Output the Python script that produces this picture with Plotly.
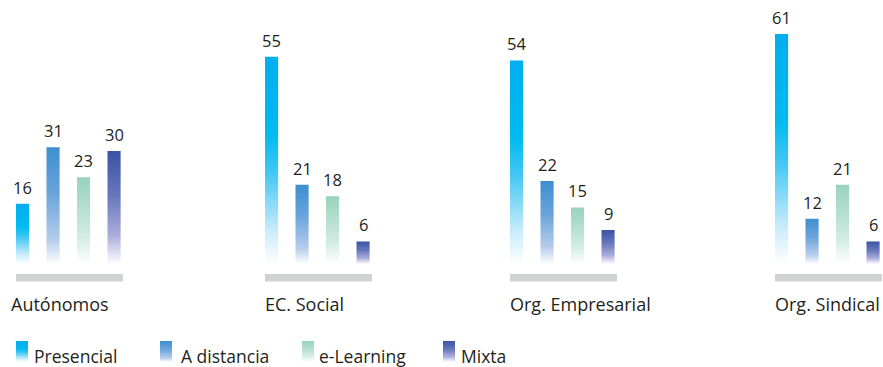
import plotly.graph_objects as go

# ---- data -------------------------------------------------------------
groups = ["Autónomos", "EC. Social", "Org. Empresarial", "Org. Sindical"]
series = ["Presencial", "A distancia", "e-Learning", "Mixta"]
presencial = [16, 55, 54, 61]
a_distancia = [31, 21, 22, 12]
e_learning = [23, 18, 15, 21]
mixta = [30, 6, 9, 6]
values = [presencial, a_distancia, e_learning, mixta]

# ---- styling / layout -------------------------------------------------
W, H = 883, 367
FONT = "Open Sans"
TEXT = "#231f20"
GREY = "#d1d2d4"

scales = [
    [[0, "#ffffff"], [0.15, "#cdedfb"], [0.45, "#3fc6f3"], [0.62, "#00bbf0"], [1, "#00aeef"]],
    [[0, "#ffffff"], [0.2, "#b6cdec"], [0.6, "#6ba4db"], [1, "#3d8fd0"]],
    [[0, "#ffffff"], [0.3, "#d4ede4"], [0.7, "#b0ddcd"], [1, "#98d3be"]],
    [[0, "#ffffff"], [0.25, "#abaedb"], [0.6, "#6978bd"], [1, "#3a52a5"]],
]

PITCH = 30.5          # px per bar slot
BAR_W = 0.43          # bar width, in slot units
ZERO_PX = 264         # pixel row of value 0
PX_PER_UNIT = 3.77    # vertical pixels per unit
group_left_px = [16, 265, 510, 775]
label_left_px = [9, 263, 508, 773]
BASE_LEN_PX = 107     # grey base strip length
BASE_TOP_PX, BASE_BOT_PX = 274, 281.5


def ydata(px):
    return (ZERO_PX - px) / PX_PER_UNIT


fig = go.Figure()
layout = dict(
    width=W, height=H, margin=dict(l=0, r=0, t=0, b=0),
    paper_bgcolor="white", plot_bgcolor="rgba(0,0,0,0)",
    showlegend=False,
    yaxis=dict(range=[ydata(H), ydata(0)], domain=[0, 1], visible=False, fixedrange=True),
)
shapes, annotations = [], []

for g, name in enumerate(groups):
    n = g + 1
    xa = "x" if n == 1 else f"x{n}"
    d0 = group_left_px[g] + BAR_W * PITCH / 2 - PITCH / 2
    d1 = min(d0 + 4 * PITCH, W)
    layout["xaxis" if n == 1 else f"xaxis{n}"] = dict(
        domain=[d0 / W, d1 / W], range=[-0.5, -0.5 + (d1 - d0) / PITCH],
        anchor="y", visible=False, fixedrange=True,
    )
    for i, s in enumerate(series):
        v = values[i][g]
        x0, x1 = i - BAR_W / 2, i + BAR_W / 2
        fig.add_trace(go.Scatter(
            x=[x0, x1, x1, x0, x0], y=[0, 0, v, v, 0],
            xaxis=xa, yaxis="y", mode="lines", line=dict(width=0),
            fill="toself",
            fillgradient=dict(type="vertical", colorscale=scales[i], start=0, stop=v),
            name=s, hoverinfo="skip",
        ))
        annotations.append(dict(
            xref=xa, yref="y", x=i, y=v, text=str(v), showarrow=False,
            yanchor="bottom", yshift=3,
            font=dict(family=FONT, size=16.5, color=TEXT),
        ))
    # grey base strip under each group
    bx0 = -BAR_W / 2
    shapes.append(dict(
        type="rect", xref=xa, yref="y", layer="below",
        x0=bx0, x1=bx0 + BASE_LEN_PX / PITCH,
        y0=ydata(BASE_BOT_PX), y1=ydata(BASE_TOP_PX),
        fillcolor=GREY, line=dict(width=0),
    ))
    annotations.append(dict(
        xref="paper", yref="paper", x=label_left_px[g] / W, y=1 - 318 / H,
        text=name, showarrow=False, xanchor="left", yanchor="bottom",
        font=dict(family=FONT, size=18, color=TEXT),
    ))

# ---- custom legend with gradient swatches ------------------------------
layout["xaxis5"] = dict(domain=[0, 1], range=[0, W], anchor="y5", visible=False, fixedrange=True)
layout["yaxis5"] = dict(domain=[0, 1], range=[H, 0], anchor="x5", visible=False, fixedrange=True)
swatch_left_px = [16, 160, 302, 443]
legend_text_px = [32, 179, 317, 459]
SW_W, SW_TOP, SW_BOT = 12, 341, 362
for i, s in enumerate(series):
    a = swatch_left_px[i]
    fig.add_trace(go.Scatter(
        x=[a, a + SW_W, a + SW_W, a, a], y=[SW_BOT, SW_BOT, SW_TOP, SW_TOP, SW_BOT],
        xaxis="x5", yaxis="y5", mode="lines", line=dict(width=0), fill="toself",
        fillgradient=dict(type="vertical", colorscale=scales[i], start=SW_BOT, stop=SW_TOP),
        hoverinfo="skip",
    ))
    annotations.append(dict(
        xref="paper", yref="paper", x=legend_text_px[i] / W, y=1 - 370 / H,
        text=s, showarrow=False, xanchor="left", yanchor="bottom",
        font=dict(family=FONT, size=17.5, color=TEXT),
    ))

layout["shapes"] = shapes
layout["annotations"] = annotations
fig.update_layout(**layout)
fig.write_html("out.html")
